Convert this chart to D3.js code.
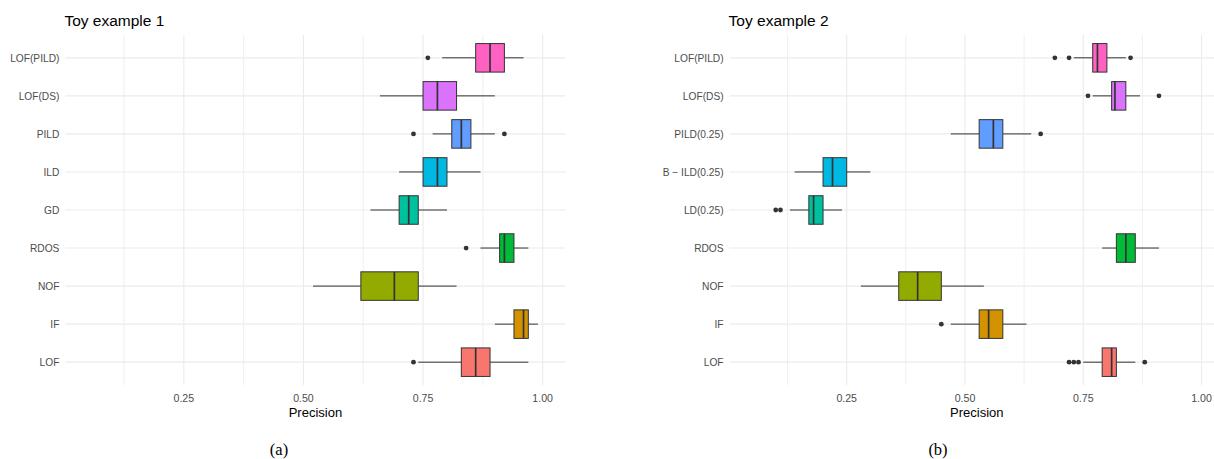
<!DOCTYPE html>
<html>
<head>
<meta charset="utf-8">
<script src="https://cdn.jsdelivr.net/npm/d3@7"></script>
<style>
  html, body { margin: 0; padding: 0; background: #ffffff; }
  svg { display: block; }
</style>
</head>
<body>
<script>
// ---- Data: box-plot summaries of precision per method (bottom row first) ----
const categories1 = ["LOF", "IF", "NOF", "RDOS", "GD", "ILD", "PILD", "LOF(DS)", "LOF(PILD)"];
const whiskerLow1 = [0.74, 0.90, 0.52, 0.87, 0.64, 0.70, 0.77, 0.66, 0.79];
const quartile1_1 = [0.83, 0.94, 0.62, 0.91, 0.70, 0.75, 0.81, 0.75, 0.86];
const median1     = [0.86, 0.96, 0.69, 0.92, 0.72, 0.78, 0.83, 0.78, 0.89];
const quartile3_1 = [0.89, 0.97, 0.74, 0.94, 0.74, 0.80, 0.85, 0.82, 0.92];
const whiskerHigh1 = [0.97, 0.99, 0.82, 0.97, 0.80, 0.87, 0.90, 0.90, 0.96];
const outliers1 = [[0.73], [], [], [0.84], [], [], [0.73, 0.92], [], [0.76]];

const categories2 = ["LOF", "IF", "NOF", "RDOS", "LD(0.25)", "B \u2212 ILD(0.25)", "PILD(0.25)", "LOF(DS)", "LOF(PILD)"];
const whiskerLow2 = [0.75, 0.47, 0.28, 0.79, 0.13, 0.14, 0.47, 0.77, 0.73];
const quartile1_2 = [0.79, 0.53, 0.36, 0.82, 0.17, 0.20, 0.53, 0.81, 0.77];
const median2     = [0.81, 0.55, 0.40, 0.84, 0.18, 0.22, 0.56, 0.817, 0.78];
const quartile3_2 = [0.82, 0.58, 0.45, 0.86, 0.20, 0.25, 0.58, 0.84, 0.80];
const whiskerHigh2 = [0.86, 0.63, 0.54, 0.91, 0.24, 0.30, 0.64, 0.87, 0.84];
const outliers2 = [[0.72, 0.73, 0.74, 0.88], [0.45], [], [], [0.10, 0.11], [], [0.66], [0.76, 0.91], [0.69, 0.72, 0.85]];

// Default ggplot hue palette, one colour per row
const fillColors = ["#F8766D", "#D39200", "#93AA00", "#00BA38", "#00C19F", "#00B9E3", "#619CFF", "#DB72FB", "#FF61C3"];

const majorTicks = [0.25, 0.50, 0.75, 1.00];
const minorTicks = [0.125, 0.375, 0.625, 0.875];
const xDomain = [0.0025, 1.0475];

const titles = ["Toy example 1", "Toy example 2"];
const captions = ["(a)", "(b)"];
const xTitle = "Precision";

// ---- Drawing ----
const W = 1214, H = 459;
const svg = d3.select("body").append("svg").attr("width", W).attr("height", H);

const SANS = "'Liberation Sans', Arial, Helvetica, sans-serif";
const SERIF = "'Liberation Serif', 'Times New Roman', Times, serif";
const GRID = "#EBEBEB";
const INK = "#333333";

const panelTop = 35, panelBottom = 385;

function drawPanel(cfg) {
  const g = svg.append("g");
  const x = d3.scaleLinear().domain(xDomain).range([cfg.left, cfg.right]);
  const y = d3.scalePoint().domain(cfg.categories).range([panelBottom, panelTop]).padding(0.6);
  const boxH = y.step() * 0.75;

  // grid
  g.append("g").selectAll("line").data(minorTicks).join("line")
    .attr("x1", d => x(d)).attr("x2", d => x(d))
    .attr("y1", panelTop).attr("y2", panelBottom)
    .attr("stroke", GRID).attr("stroke-width", 0.8);
  g.append("g").selectAll("line").data(majorTicks).join("line")
    .attr("x1", d => x(d)).attr("x2", d => x(d))
    .attr("y1", panelTop).attr("y2", panelBottom)
    .attr("stroke", GRID).attr("stroke-width", 1.1);
  g.append("g").selectAll("line").data(cfg.categories).join("line")
    .attr("x1", cfg.left).attr("x2", cfg.right)
    .attr("y1", d => y(d)).attr("y2", d => y(d))
    .attr("stroke", GRID).attr("stroke-width", 1.1);

  const rows = cfg.categories.map((c, i) => ({
    cat: c, lo: cfg.lo[i], q1: cfg.q1[i], med: cfg.med[i], q3: cfg.q3[i], hi: cfg.hi[i],
    out: cfg.out[i], color: fillColors[i]
  }));

  const rg = g.append("g").selectAll("g").data(rows).join("g");
  // whiskers
  rg.append("line")
    .attr("x1", d => x(d.lo)).attr("x2", d => x(d.q1))
    .attr("y1", d => y(d.cat)).attr("y2", d => y(d.cat))
    .attr("stroke", INK).attr("stroke-width", 1);
  rg.append("line")
    .attr("x1", d => x(d.q3)).attr("x2", d => x(d.hi))
    .attr("y1", d => y(d.cat)).attr("y2", d => y(d.cat))
    .attr("stroke", INK).attr("stroke-width", 1);
  // boxes
  rg.append("rect")
    .attr("x", d => x(d.q1)).attr("width", d => x(d.q3) - x(d.q1))
    .attr("y", d => y(d.cat) - boxH / 2).attr("height", boxH)
    .attr("fill", d => d.color).attr("stroke", INK).attr("stroke-width", 1);
  // medians
  rg.append("line")
    .attr("x1", d => x(d.med)).attr("x2", d => x(d.med))
    .attr("y1", d => y(d.cat) - boxH / 2).attr("y2", d => y(d.cat) + boxH / 2)
    .attr("stroke", INK).attr("stroke-width", 1.7);
  // outliers
  rg.selectAll("circle").data(d => d.out.map(v => ({ v, cat: d.cat }))).join("circle")
    .attr("cx", d => x(d.v)).attr("cy", d => y(d.cat)).attr("r", 2.4)
    .attr("fill", INK);

  // y labels
  g.append("g").selectAll("text").data(cfg.categories).join("text")
    .attr("x", cfg.left - 6).attr("y", d => y(d) + 3.8)
    .attr("text-anchor", "end")
    .attr("font-family", SANS).attr("font-size", 10.2).attr("fill", "#4D4D4D")
    .text(d => d);

  // x labels
  g.append("g").selectAll("text").data(majorTicks).join("text")
    .attr("x", d => x(d)).attr("y", 401.5)
    .attr("text-anchor", "middle")
    .attr("font-family", SANS).attr("font-size", 10.6).attr("fill", "#4D4D4D")
    .text(d => d3.format(".2f")(d));

  // axis title
  g.append("text")
    .attr("x", (cfg.left + cfg.right) / 2).attr("y", 417)
    .attr("text-anchor", "middle")
    .attr("font-family", SANS).attr("font-size", 13).attr("fill", "#000")
    .text(xTitle);

  // panel title
  g.append("text")
    .attr("x", cfg.left - 1).attr("y", 26)
    .attr("font-family", SANS).attr("font-size", 15.5).attr("fill", "#000")
    .text(cfg.title);

  // caption
  g.append("text")
    .attr("x", cfg.captionX).attr("y", 455)
    .attr("text-anchor", "middle")
    .attr("font-family", SERIF).attr("font-size", 16.5).attr("fill", "#000")
    .text(cfg.caption);
}

drawPanel({
  left: 65.4, right: 565.4, categories: categories1,
  lo: whiskerLow1, q1: quartile1_1, med: median1, q3: quartile3_1, hi: whiskerHigh1, out: outliers1,
  title: titles[0], caption: captions[0], captionX: 279
});
drawPanel({
  left: 729.6, right: 1224, categories: categories2,
  lo: whiskerLow2, q1: quartile1_2, med: median2, q3: quartile3_2, hi: whiskerHigh2, out: outliers2,
  title: titles[1], caption: captions[1], captionX: 938
});
</script>
</body>
</html>
